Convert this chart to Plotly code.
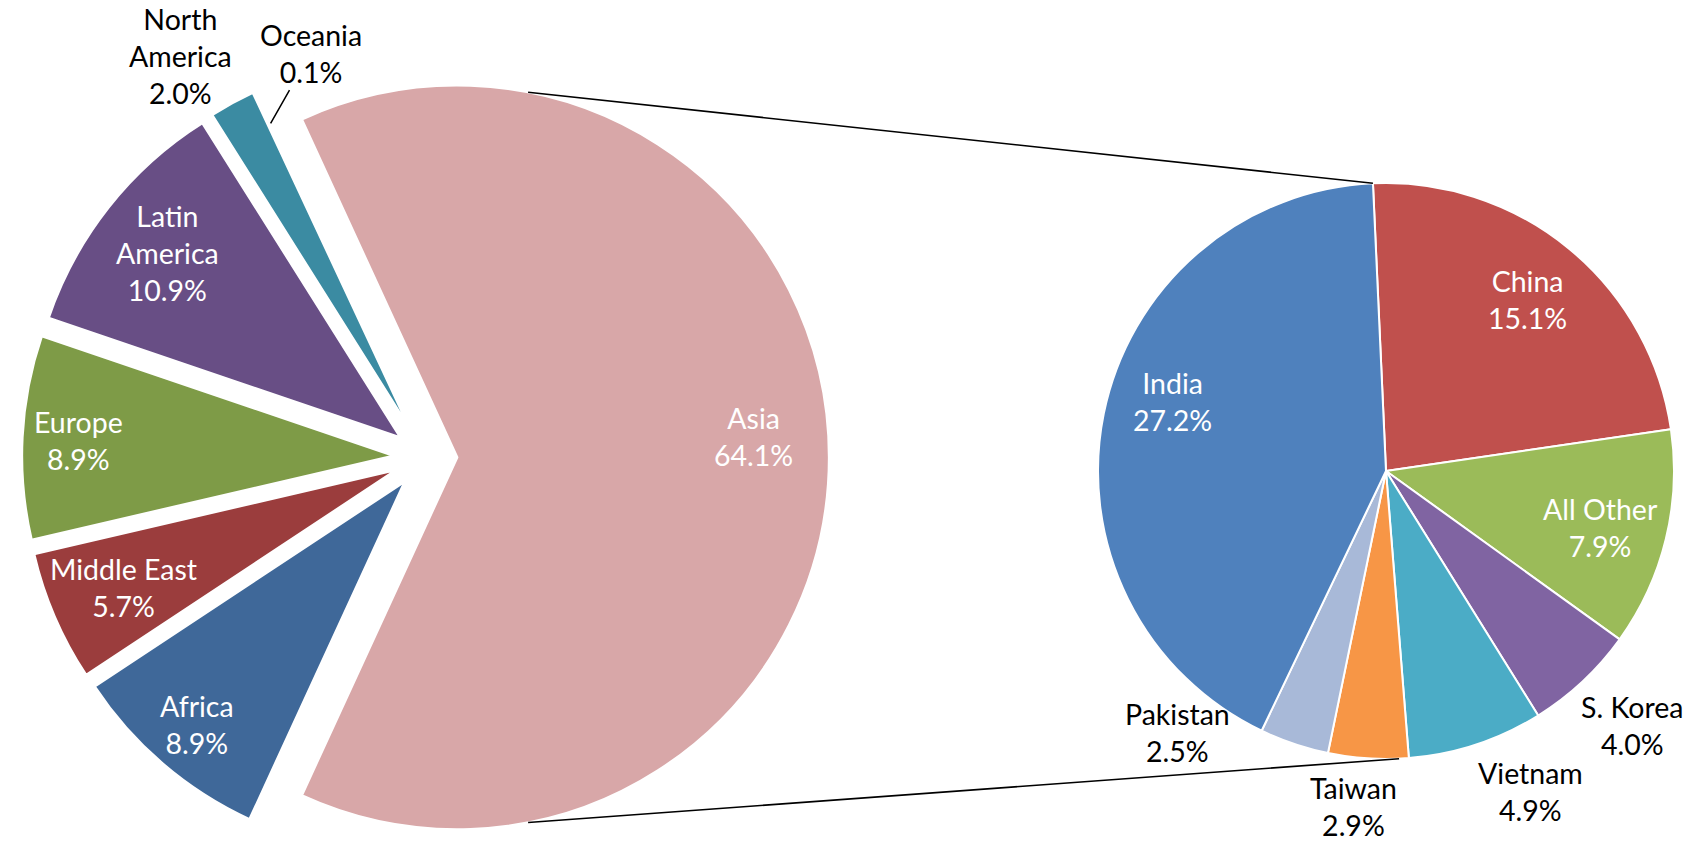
import numpy as np
import plotly.graph_objects as go

# ---------------- data ----------------
region_labels = ["Asia", "Africa", "Middle East", "Europe", "Latin America",
                 "North America", "Oceania"]
region_values = [64.1, 8.9, 5.7, 8.9, 10.9, 2.0, 0.1]

asia_labels = ["China", "All Other", "S. Korea", "Vietnam", "Taiwan", "Pakistan", "India"]
asia_values = [15.1, 7.9, 4.0, 4.9, 2.9, 2.5, 27.2]

# ---------------- styles ----------------
W, H = 1698, 861
FONT = "Lato"
FONT_SIZE = 28.5

region_colors = ["#D8A7A8", "#3F6899", "#9B3D3D", "#7E9B47", "#684E85", "#3B8BA2", "#E46C0A"]
asia_colors = ["#C0504D", "#9BBB59", "#8064A2", "#4BACC6", "#F79646", "#A8B9D8", "#4F81BD"]

EXPLODE = 0.085
region_pull = [EXPLODE] * 6 + [0.0]

# label placement: radial fraction of radius, angular tweak (deg clockwise), text colour
region_label_r = [0.80, 0.86, 0.80, 0.85, 0.80, 1.18, 1.13]
region_label_da = [-4, 0, 0, 0, 0, -3, 9]
region_label_col = ["white"] * 5 + ["black", "black"]

asia_label_r = [0.77, 0.77, 1.23, 1.22, 1.17, 1.16, 0.78]
asia_label_da = [0, 1, -1, -6, 2, 20, 6.6]
asia_label_col = ["white", "white", "black", "black", "black", "black", "white"]

# geometry of the two pies (pixels)
L_R = 372.0
L_CX = 425.5
L_BOX = 2 * L_R * (1 + max(region_pull))
L_CY = H - L_BOX / 2
R_R = 288.0
R_CX, R_CY = 1386.0, 471.0
R_ROT = -2.6
L_ROT = 90 - 180 * region_values[0] / sum(region_values)
CONNECT_ANGLE = 79  # degrees from the Asia bisector where the connectors leave


def px_to_paper(x, y):
    return x / W, 1 - y / H


def unit(a_deg):
    a = np.radians(a_deg)
    return np.sin(a), -np.cos(a)  # clockwise from 12 o'clock, screen coordinates


def mids(values, rotation):
    v = np.asarray(values, float)
    spans = 360 * v / v.sum()
    starts = rotation + np.concatenate([[0], np.cumsum(spans)[:-1]])
    return starts + spans / 2


def wrap(lbl):
    return lbl.replace(" America", "<br>America")


fig = go.Figure()

fig.add_trace(go.Pie(
    labels=region_labels, values=region_values, sort=False, direction="clockwise",
    rotation=L_ROT, pull=region_pull, textinfo="none",
    marker=dict(colors=region_colors, line=dict(color="white", width=2.5)),
    domain=dict(x=[(L_CX - L_BOX / 2) / W, (L_CX + L_BOX / 2) / W], y=[0, L_BOX / H]),
    hovertemplate="%{label}: %{value:.1f}%<extra></extra>",
))

fig.add_trace(go.Pie(
    labels=asia_labels, values=asia_values, sort=False, direction="clockwise",
    rotation=R_ROT, textinfo="none",
    marker=dict(colors=asia_colors, line=dict(color="white", width=2)),
    domain=dict(x=[(R_CX - R_R) / W, (R_CX + R_R) / W],
                y=[1 - (R_CY + R_R) / H, 1 - (R_CY - R_R) / H]),
    hovertemplate="%{label}: %{value:.1f}%<extra></extra>",
))

annotations = []
# left pie labels
lm = mids(region_values, L_ROT)
for i, lbl in enumerate(region_labels):
    ux, uy = unit(lm[i])
    vx = L_CX + region_pull[i] * L_R * ux
    vy = L_CY + region_pull[i] * L_R * uy
    lx_, ly_ = unit(lm[i] + region_label_da[i])
    tx = vx + region_label_r[i] * L_R * lx_
    ty = vy + region_label_r[i] * L_R * ly_
    text = f"{wrap(lbl)}<br>{region_values[i]:.1f}%"
    font = dict(family=FONT, size=FONT_SIZE, color=region_label_col[i])
    if lbl == "Oceania":
        # leader line from label to slice tip
        tipx = vx + 0.99 * L_R * ux
        tipy = vy + 0.99 * L_R * uy
        px, py = px_to_paper(tipx, tipy)
        annotations.append(dict(x=px, y=py, xref="paper", yref="paper", text=text,
                                xanchor="center", yanchor="middle",
                                showarrow=True, arrowhead=0, arrowwidth=1.5, arrowcolor="black",
                                ax=tx - tipx, ay=ty - tipy, standoff=0, font=font))
    else:
        px, py = px_to_paper(tx, ty)
        annotations.append(dict(x=px, y=py, xref="paper", yref="paper", text=text,
                                xanchor="center", yanchor="middle",
                                showarrow=False, font=font))

# right pie labels
rm = mids(asia_values, R_ROT)
for i, lbl in enumerate(asia_labels):
    lx_, ly_ = unit(rm[i] + asia_label_da[i])
    tx = R_CX + asia_label_r[i] * R_R * lx_
    ty = R_CY + asia_label_r[i] * R_R * ly_
    px, py = px_to_paper(tx, ty)
    annotations.append(dict(x=px, y=py, xref="paper", yref="paper",
                            xanchor="center", yanchor="middle",
                            text=f"{lbl}<br>{asia_values[i]:.1f}%", showarrow=False,
                            font=dict(family=FONT, size=FONT_SIZE, color=asia_label_col[i])))

# connector lines (pie-of-pie)
ax_, ay_ = unit(lm[0])
asia_vx = L_CX + region_pull[0] * L_R * ax_
asia_vy = L_CY + region_pull[0] * L_R * ay_
shapes = []
for sgn in (-1, 1):
    sx, sy = unit(lm[0] + sgn * CONNECT_ANGLE)
    x0, y0 = asia_vx + L_R * sx, asia_vy + L_R * sy
    ex, ey = unit(R_ROT + (0 if sgn < 0 else 180))
    x1, y1 = R_CX + R_R * ex, R_CY + R_R * ey
    p0 = px_to_paper(x0, y0)
    p1 = px_to_paper(x1, y1)
    shapes.append(dict(type="line", xref="paper", yref="paper",
                       x0=p0[0], y0=p0[1], x1=p1[0], y1=p1[1],
                       line=dict(color="black", width=1.6)))

fig.update_layout(
    width=W, height=H, margin=dict(l=0, r=0, t=0, b=0),
    paper_bgcolor="white", plot_bgcolor="white", showlegend=False,
    font=dict(family=FONT, size=FONT_SIZE),
    annotations=annotations, shapes=shapes,
)

fig.write_html("out.html", config={"displayModeBar": False},
               post_script="document.body.style.margin='0px';document.body.style.overflow='hidden';")
